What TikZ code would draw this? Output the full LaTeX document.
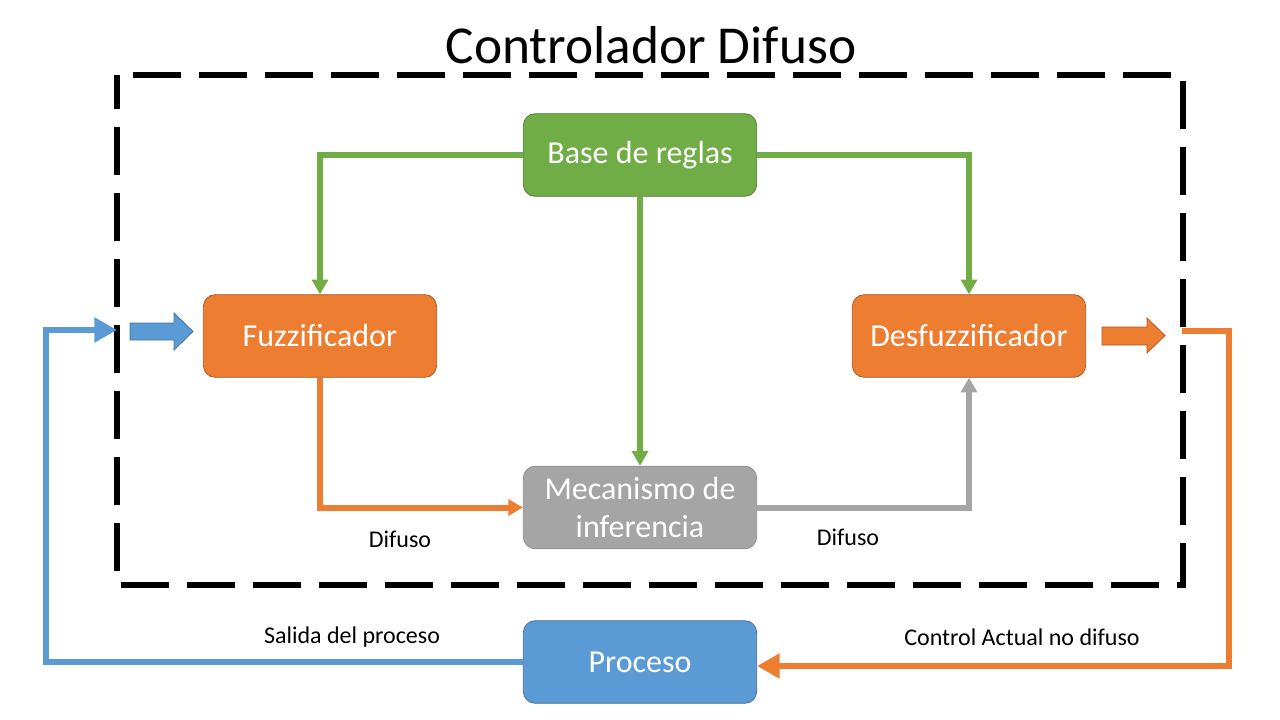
\documentclass[tikz,border=0pt]{standalone}
\usepackage{fontspec}
\setmainfont{Carlito}
\usetikzlibrary{arrows.meta,calc}
\definecolor{cgreen}{HTML}{70AD47}
\definecolor{cgreenD}{HTML}{507E32}
\definecolor{corange}{HTML}{ED7D31}
\definecolor{corangeD}{HTML}{AE5A21}
\definecolor{cgray}{HTML}{A5A5A5}
\definecolor{cgrayD}{HTML}{8C8C8C}
\definecolor{cblue}{HTML}{5B9BD5}
\definecolor{cblueD}{HTML}{41719C}
\tikzset{
  blk/.style={rounded corners=9pt, minimum width=175pt, minimum height=62pt, inner sep=2pt,
    text=white, font=\fontsize{24}{28}\selectfont, align=center, line width=0.6pt},
  gbox/.style={blk, fill=cgreen, draw=cgreenD},
  obox/.style={blk, fill=corange, draw=corangeD},
  graybox/.style={blk, fill=cgray, draw=cgrayD},
  bbox/.style={blk, fill=cblue, draw=cblueD},
  conn/.style={line width=4.5pt, -{Triangle[length=11pt,width=12pt]}},
  fbk/.style={line width=5.2pt, -{Triangle[length=17pt,width=18pt]}},
  lbl/.style={font=\fontsize{18}{20}\selectfont, inner sep=0pt},
}
\begin{document}
\begin{tikzpicture}[x=0.75pt,y=-0.75pt]
\useasboundingbox (0,0) rectangle (1280,720);
% title
\node[font=\fontsize{40}{46}\selectfont, inner sep=0pt] (title) at (651,45) {Controlador Difuso};
% dashed frame
\draw[line width=4.5pt, dash pattern=on 36pt off 13.5pt, dash phase=-12pt] (117,75) -- (1183,75) -- (1183,585) -- (117,585) -- cycle;
% boxes
\node[gbox] (base) at (640,155) {Base de reglas};
\node[obox] (fuzz) at (320,336) {Fuzzificador};
\node[obox] (desf) at (969,336) {Desfuzzificador};
\node[graybox] (mec) at (640,507.5) {Mecanismo de\\inferencia};
\node[bbox] (proc) at (640,662) {Proceso};
% green connectors
\draw[conn, cgreen] (base.west) -| (fuzz.north);
\draw[conn, cgreen] (base.east) -| (desf.north);
\draw[conn, cgreen] (base.south) -- (mec.north);
% inner connectors
\draw[conn, corange] (fuzz.south) |- (mec.west);
\draw[conn, cgray] (mec.east) -| (desf.south);
\node[lbl] (d1) at (400,539) {Difuso};
\node[lbl] (d2) at (848,537) {Difuso};
% block arrows
\draw[fill=cblue, draw=cblueD, line width=0.6pt] (130,323) -- (174,323) -- (174,313) -- (193,331.5) -- (174,350) -- (174,340) -- (130,340) -- cycle;
\draw[fill=corange, draw=corangeD, line width=0.6pt] (1102,327) -- (1147,327) -- (1147,318) -- (1165,335.5) -- (1147,353) -- (1147,345) -- (1102,345) -- cycle;
% feedback
\coordinate (inL) at (117,330);
\coordinate (fbL) at (46,330);
\coordinate (outR) at (1182,331);
\coordinate (fbR) at (1229,331);
\draw[fbk, cblue] (proc.west) -| (fbL) -- (inL);
\draw[fbk, corange] (outR) -- (fbR) |- ($(proc.east)+(0,4)$);
\node[lbl] (sal) at (352,637) {Salida del proceso};
\node[lbl] (ctl) at (1022,637) {Control Actual no difuso};
\end{tikzpicture}
\end{document}
